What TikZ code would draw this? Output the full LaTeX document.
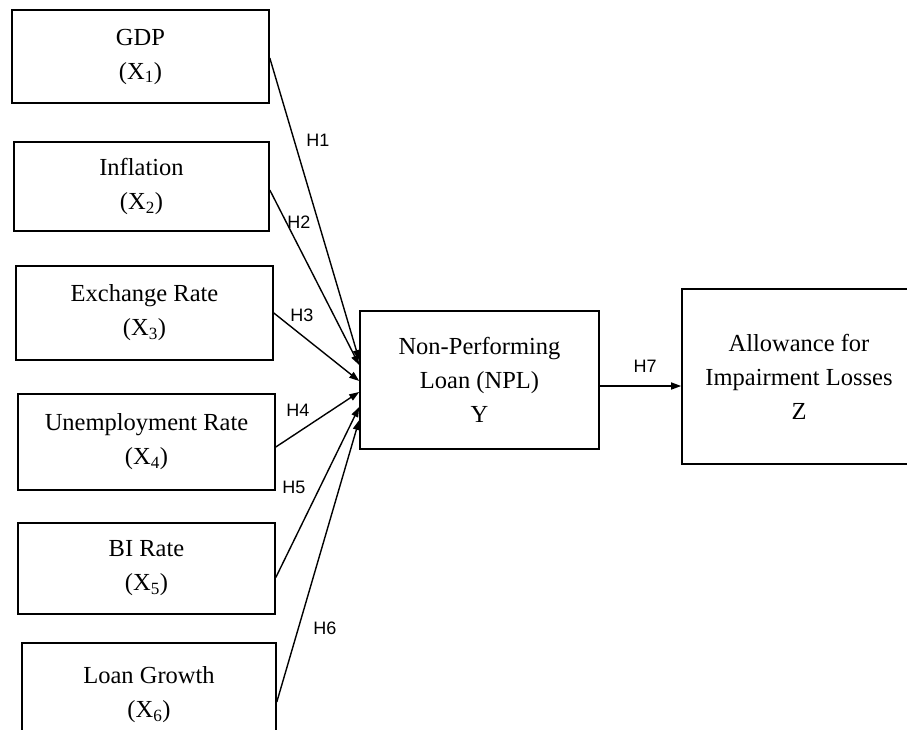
\documentclass[tikz,border=0pt]{standalone}
\usepackage{fontspec}
\setmainfont{Liberation Serif}
\newfontfamily\hlabelfont{Liberation Sans}
\usetikzlibrary{arrows.meta}

\tikzset{every picture/.style={line width=1.5pt}}
\tikzset{
  varbox/.style={draw, line width=1.6pt, align=center, inner sep=0pt,
    font=\fontsize{24.5}{34}\selectfont},
  hyp/.style={-{Triangle[length=10pt,width=7pt]}, line width=1.4pt},
  hlabel/.style={inner sep=0pt, font=\hlabelfont\fontsize{18}{20}\selectfont}
}

\begin{document}
\begin{tikzpicture}[x=1pt,y=1pt,yscale=-1]
\useasboundingbox (0,0) rectangle (907,730);
\clip (0,0) rectangle (907,730);

% independent variables
\node [varbox, minimum width=257pt, minimum height=93pt] (gdp) at (140.5,56.5) {GDP\\(X\textsubscript{1})};
\node [varbox, minimum width=255pt, minimum height=89pt] (infl) at (141.5,186.5) {Inflation\\(X\textsubscript{2})};
\node [varbox, minimum width=257pt, minimum height=94pt] (exch) at (144.5,313) {Exchange Rate\\(X\textsubscript{3})};
\node [varbox, minimum width=257pt, minimum height=96pt] (unemp) at (146.5,442) {Unemployment Rate\\(X\textsubscript{4})};
\node [varbox, minimum width=257pt, minimum height=91pt] (birate) at (146.5,568.5) {BI Rate\\(X\textsubscript{5})};
\node [varbox, minimum width=254pt, minimum height=104pt] (loan) at (149,695) {Loan Growth\\(X\textsubscript{6})};

% mediating and dependent variables
\node [varbox, minimum width=239pt, minimum height=138pt] (npl) at (479.5,380) {Non-Performing\\Loan (NPL)\\Y};
\node [varbox, minimum width=234pt, minimum height=175pt] (allow) at (799,376.5) {Allowance for\\Impairment Losses\\Z};

% hypotheses (yshift follows yscale=-1, so positive is downwards)
\draw [hyp] ([yshift=1.5pt]gdp.east) -- ([yshift=-20pt]npl.west);
\draw [hyp] ([yshift=3.5pt]infl.east) -- ([yshift=-15pt]npl.west);
\draw [hyp] (exch.east) -- ([yshift=1pt]npl.west);
\draw [hyp] ([yshift=5pt]unemp.east) -- ([yshift=12pt]npl.west);
\draw [hyp] ([yshift=9pt]birate.east) -- ([yshift=27pt]npl.west);
\draw [hyp] ([yshift=7pt]loan.east) -- ([yshift=40pt]npl.west);
\draw [hyp] ([yshift=6pt]npl.east) -- ([yshift=9.5pt]allow.west);

% Text Node
\node [hlabel] (h1) at (318,140) {H1};
\node [hlabel] (h2) at (299,222) {H2};
\node [hlabel] (h3) at (302,315) {H3};
\node [hlabel] (h4) at (298,410) {H4};
\node [hlabel] (h5) at (294,487) {H5};
\node [hlabel] (h6) at (325,628) {H6};
\node [hlabel] (h7) at (645,366) {H7};

\end{tikzpicture}
\end{document}
